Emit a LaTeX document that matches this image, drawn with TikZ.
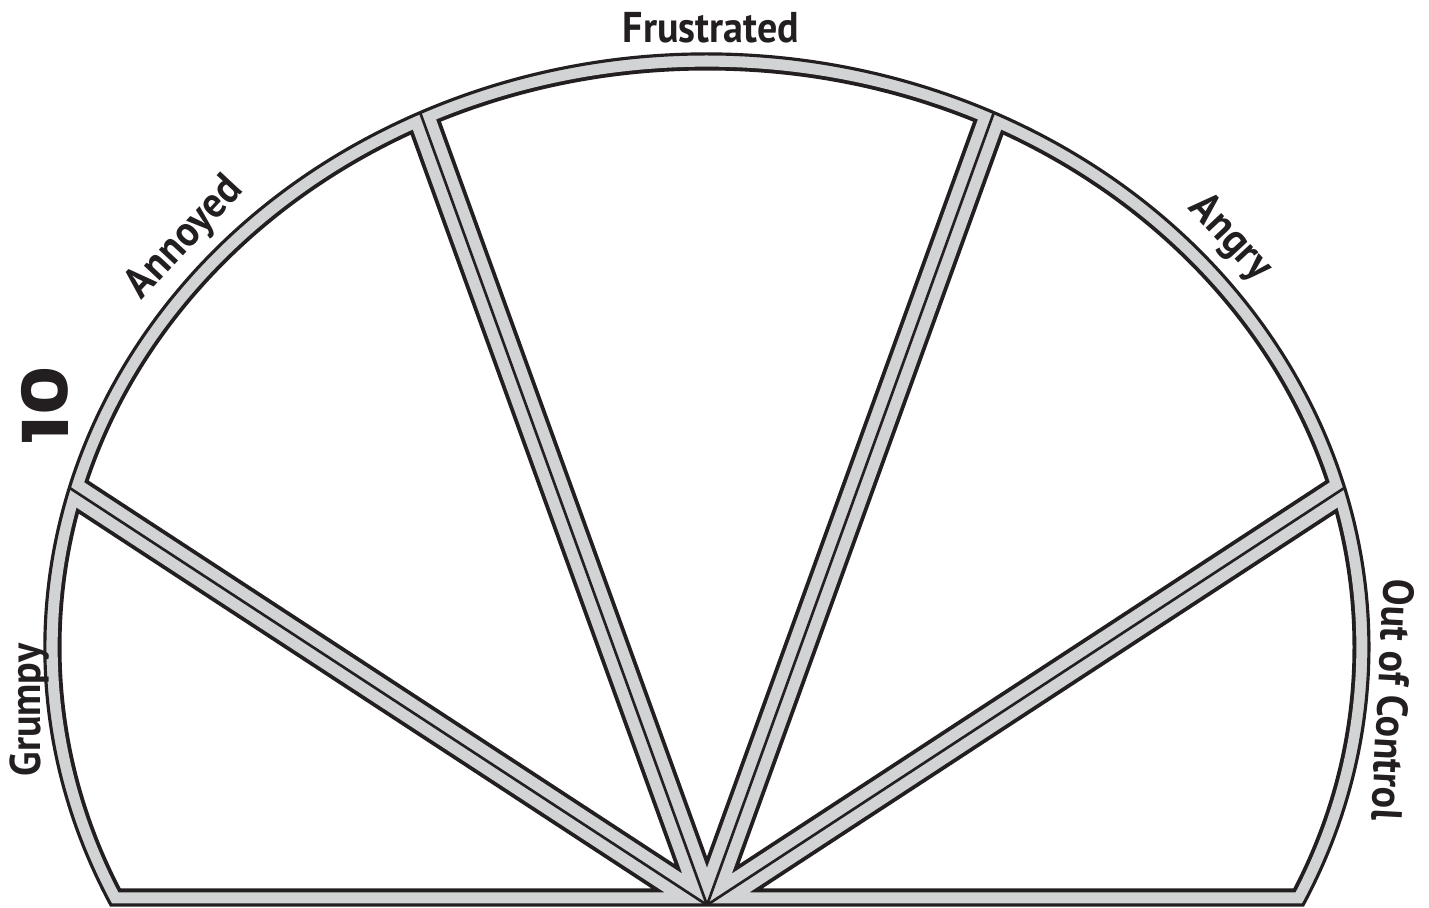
\documentclass[tikz,border=0pt]{standalone}
\usepackage{fontspec}
\setmainfont{PT Sans}
\newfontfamily\numfont{Poppins}
\usetikzlibrary{calc}
\definecolor{band}{HTML}{D1D3D4}
\definecolor{ink}{HTML}{231F20}
\newcommand\lbltext[1]{\scalebox{0.93}[1]{#1}}
\begin{document}
\begin{tikzpicture}[x=0.02cm,y=0.02cm,
  lbl/.style={font=\fontsize{24.5}{24.5}\selectfont\bfseries, text=ink, inner sep=0pt},
  outerline/.style={draw=ink, line width=1.8pt, line join=miter},
  bandblack/.style={draw=ink, line width=18.8pt},
  bandgray/.style={draw=band, line width=14.4pt},
  spokeline/.style={draw=ink, line width=1.5pt}]
\useasboundingbox (0,0) rectangle (1429,907);
\coordinate (A) at (707,2);
\coordinate (C) at (707,260);
\coordinate (L) at (110.95,2);
\coordinate (R) at (1303.05,2);
% gray frame
\fill[band] (L) arc[start angle=205.79,end angle=-25.79,x radius=662,y radius=593] -- cycle;
% sectors
\foreach \a/\b in {0/33.2, 33.2/70.1, 70.1/109.9, 109.9/146.8, 146.8/180} {
  \begin{scope}
    \clip (C) ellipse [x radius=662, y radius=593];
    \clip (A) -- ($(A)+(\a:1300)$) -- ($(A)+(\b:1300)$) -- cycle;
    \fill[white] (0,0) rectangle (1429,907);
    \path[bandblack] (C) ellipse [x radius=662, y radius=593];
    \path[bandblack] ($(A)+(\a:1300)$) -- (A) -- ($(A)+(\b:1300)$);
    \path[bandgray] (C) ellipse [x radius=662, y radius=593];
    \path[bandgray] ($(A)+(\a:1300)$) -- (A) -- ($(A)+(\b:1300)$);
  \end{scope}
}
% spoke centre lines
\begin{scope}
  \clip (C) ellipse [x radius=662, y radius=593];
  \foreach \t in {33.2,70.1,109.9,146.8} \path[spokeline] (A) -- ++(\t:1300);
\end{scope}
% outer outline
\path[outerline] (L) arc[start angle=205.79,end angle=-25.79,x radius=662,y radius=593] -- cycle;
% labels
\node[lbl] (frustrated) at (711,879) {\lbltext{Frustrated}};
\node[lbl, rotate=47] (annoyed) at (185,669) {\lbltext{Annoyed}};
\node[lbl, rotate=-47] (angry) at (1230,669) {\lbltext{Angry}};
\node[lbl, rotate=90] (grumpy) at (30,197) {\lbltext{Grumpy}};
\node[lbl, rotate=-93] (ooc) at (1393,207) {\lbltext{Out of Control}};
\node[font=\numfont\bfseries\fontsize{36}{36}\selectfont, text=ink, inner sep=0pt, rotate=90] (num) at (45,502) {\scalebox{1.2}[1]{10}};
\end{tikzpicture}
\end{document}
